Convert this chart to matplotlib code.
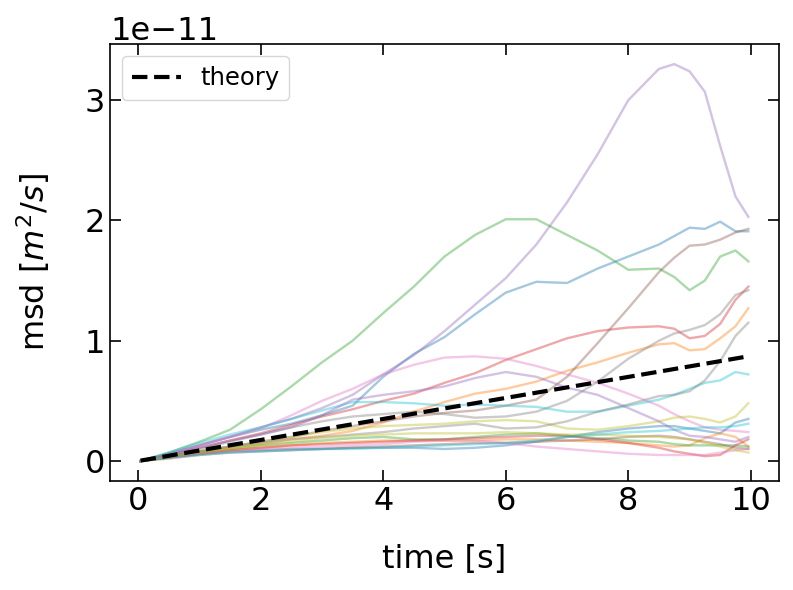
import numpy as np
import matplotlib
matplotlib.use('Agg')
import matplotlib.pyplot as plt

# time grid [s]
t = [0.04, 0.5, 1.0, 1.5, 2.0, 2.5, 3.0, 3.5, 4.0, 4.5, 5.0, 5.5, 6.0, 6.5,
     7.0, 7.5, 8.0, 8.5, 8.75, 9.0, 9.25, 9.5, 9.75, 9.96]

# msd of each track, in units of 1e-11 m^2/s
blue_a = [0, 0.06, 0.13, 0.2, 0.26, 0.31, 0.38, 0.46, 0.70, 0.89, 1.03, 1.22, 1.4, 1.49,
          1.48, 1.6, 1.7, 1.8, 1.87, 1.94, 1.93, 1.99, 1.91, 1.91]
orange_a = [0, 0.04, 0.08, 0.11, 0.14, 0.18, 0.21, 0.25, 0.32, 0.41, 0.49, 0.56, 0.6, 0.66,
            0.75, 0.82, 0.9, 0.97, 0.98, 0.92, 0.93, 1.02, 1.12, 1.27]
green_a = [0, 0.07, 0.16, 0.26, 0.43, 0.62, 0.82, 1.0, 1.23, 1.45, 1.7, 1.88, 2.01, 2.01,
           1.88, 1.75, 1.59, 1.6, 1.53, 1.42, 1.5, 1.7, 1.75, 1.66]
red_a = [0, 0.05, 0.11, 0.17, 0.23, 0.3, 0.37, 0.43, 0.5, 0.56, 0.65, 0.73, 0.84, 0.93,
         1.02, 1.08, 1.11, 1.12, 1.1, 1.02, 1.04, 1.14, 1.34, 1.45]
purple_a = [0, 0.06, 0.13, 0.2, 0.28, 0.35, 0.44, 0.55, 0.72, 0.88, 1.08, 1.3, 1.52, 1.8,
            2.15, 2.55, 3.0, 3.26, 3.3, 3.24, 3.07, 2.62, 2.2, 2.03]
brown_a = [0, 0.04, 0.08, 0.12, 0.16, 0.2, 0.25, 0.29, 0.33, 0.37, 0.4, 0.42, 0.46, 0.51,
           0.7, 0.98, 1.27, 1.57, 1.69, 1.79, 1.8, 1.84, 1.9, 1.93]
pink_a = [0, 0.06, 0.13, 0.2, 0.27, 0.38, 0.5, 0.6, 0.72, 0.8, 0.86, 0.87, 0.85, 0.79,
          0.72, 0.65, 0.56, 0.46, 0.39, 0.33, 0.28, 0.26, 0.25, 0.24]
gray_a = [0, 0.05, 0.1, 0.16, 0.22, 0.28, 0.33, 0.37, 0.39, 0.41, 0.39, 0.36, 0.37, 0.41,
          0.5, 0.66, 0.85, 1.0, 1.06, 1.09, 1.13, 1.22, 1.38, 1.42]
olive_a = [0, 0.04, 0.08, 0.12, 0.16, 0.2, 0.24, 0.27, 0.29, 0.3, 0.31, 0.33, 0.34, 0.33,
           0.27, 0.26, 0.29, 0.33, 0.36, 0.37, 0.35, 0.32, 0.37, 0.48]
cyan_a = [0, 0.07, 0.15, 0.22, 0.28, 0.35, 0.42, 0.49, 0.49, 0.48, 0.46, 0.47, 0.46, 0.45,
          0.41, 0.41, 0.46, 0.51, 0.55, 0.6, 0.65, 0.67, 0.74, 0.72]
blue_b = [0, 0.03, 0.06, 0.08, 0.09, 0.1, 0.1, 0.11, 0.11, 0.11, 0.1, 0.11, 0.13, 0.16,
          0.2, 0.24, 0.27, 0.29, 0.29, 0.27, 0.25, 0.23, 0.32, 0.35]
orange_b = [0, 0.03, 0.06, 0.09, 0.11, 0.13, 0.15, 0.16, 0.17, 0.17, 0.17, 0.17, 0.18, 0.18,
            0.17, 0.16, 0.15, 0.13, 0.12, 0.13, 0.19, 0.23, 0.2, 0.12]
green_b = [0, 0.03, 0.07, 0.1, 0.13, 0.15, 0.17, 0.19, 0.2, 0.18, 0.18, 0.2, 0.22, 0.23,
           0.21, 0.19, 0.17, 0.16, 0.14, 0.13, 0.13, 0.13, 0.13, 0.12]
red_b = [0, 0.03, 0.06, 0.09, 0.11, 0.13, 0.14, 0.15, 0.16, 0.17, 0.18, 0.19, 0.2, 0.21,
         0.21, 0.18, 0.15, 0.11, 0.08, 0.06, 0.04, 0.05, 0.13, 0.18]
purple_b = [0, 0.05, 0.11, 0.17, 0.22, 0.28, 0.38, 0.51, 0.55, 0.58, 0.62, 0.69, 0.74, 0.7,
            0.61, 0.55, 0.44, 0.33, 0.26, 0.21, 0.2, 0.18, 0.16, 0.2]
brown_b = [0, 0.02, 0.05, 0.07, 0.08, 0.09, 0.1, 0.11, 0.12, 0.13, 0.14, 0.15, 0.15, 0.16,
           0.17, 0.18, 0.2, 0.21, 0.2, 0.18, 0.16, 0.14, 0.11, 0.1]
pink_b = [0, 0.03, 0.06, 0.08, 0.1, 0.11, 0.12, 0.13, 0.14, 0.16, 0.17, 0.17, 0.15, 0.12,
          0.1, 0.08, 0.06, 0.05, 0.05, 0.05, 0.05, 0.07, 0.09, 0.1]
gray_b = [0, 0.04, 0.08, 0.12, 0.15, 0.18, 0.2, 0.22, 0.24, 0.27, 0.29, 0.31, 0.27, 0.28,
          0.33, 0.41, 0.47, 0.54, 0.55, 0.58, 0.67, 0.83, 1.04, 1.15]
olive_b = [0, 0.03, 0.07, 0.1, 0.13, 0.16, 0.19, 0.21, 0.22, 0.23, 0.23, 0.23, 0.24, 0.23,
           0.22, 0.22, 0.21, 0.2, 0.19, 0.18, 0.15, 0.12, 0.09, 0.07]
cyan_b = [0, 0.03, 0.05, 0.07, 0.08, 0.09, 0.1, 0.1, 0.11, 0.12, 0.13, 0.14, 0.15, 0.17,
          0.2, 0.22, 0.24, 0.25, 0.26, 0.27, 0.28, 0.28, 0.29, 0.31]

tracks = [blue_a, orange_a, green_a, red_a, purple_a, brown_a, pink_a, gray_a, olive_a, cyan_a,
          blue_b, orange_b, green_b, red_b, purple_b, brown_b, pink_b, gray_b, olive_b, cyan_b]

theory_slope = 0.0874  # 1e-11 m^2/s per s

t = np.array(t)

fig = plt.figure(figsize=(7.93, 5.90), dpi=100)
ax = fig.add_axes([0.139, 0.185, 0.843, 0.740])

for msd in tracks:
    ax.plot(t, np.array(msd) * 1e-11, alpha=0.4, lw=1.7)

ax.plot(t, theory_slope * t * 1e-11, 'k--', lw=3, label='theory')

ax.set_xlabel('time [s]', fontsize=23, labelpad=20)
ax.set_ylabel('msd [$m^2/s$]', fontsize=23, labelpad=24)
ax.tick_params(direction='in', top=True, right=True, labelsize=23, length=8, width=1.2)
for side in ax.spines.values():
    side.set_linewidth(1.2)
ax.yaxis.get_offset_text().set_fontsize(23)
ax.set_xticks([0, 2, 4, 6, 8, 10])
ax.set_yticks(np.array([0, 1, 2, 3]) * 1e-11)
ax.legend(loc='upper left', fontsize=17.5)

fig.savefig('out.png', dpi=100)
